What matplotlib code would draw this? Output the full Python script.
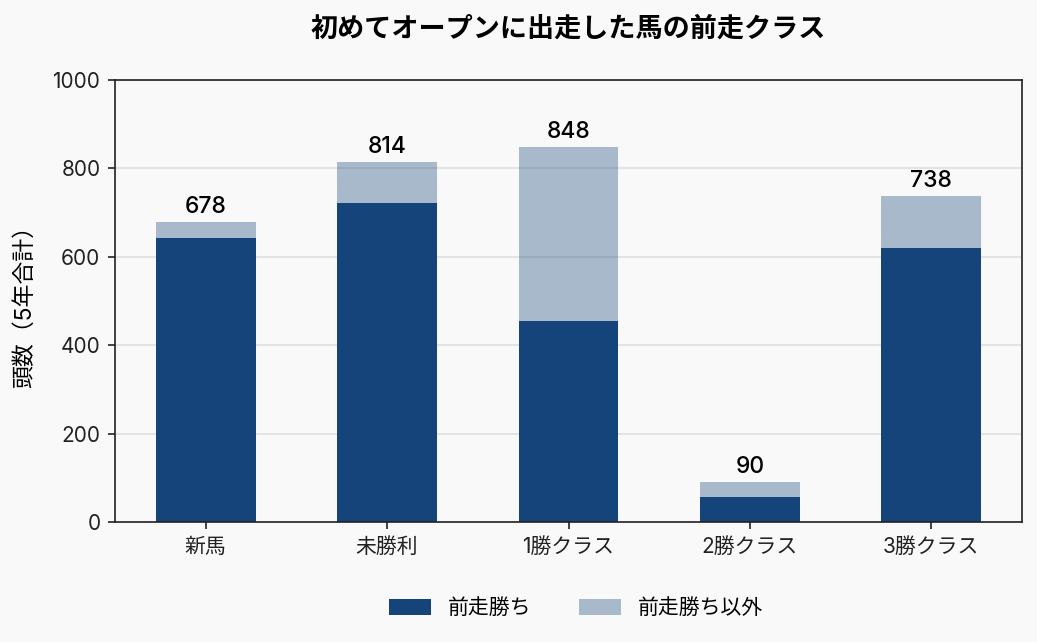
import numpy as np
import matplotlib
matplotlib.use('Agg')
import matplotlib.pyplot as plt

plt.rcParams['font.family'] = ['Inter', 'Noto Sans CJK JP', 'DejaVu Sans']

# 前走クラス別の頭数（5年合計）
classes = ['新馬', '未勝利', '1勝クラス', '2勝クラス', '3勝クラス']
won_last = [642, 722, 455, 56, 620]
totals = [678, 814, 848, 90, 738]
not_won = [t - w for t, w in zip(totals, won_last)]

dark = '#15447a'
bg = '#f9f9f9'

fig = plt.figure(figsize=(1037 / 150, 642 / 150), dpi=150, facecolor=bg)
ax = fig.add_axes([115 / 1037, 1 - 522 / 642, (1022 - 115) / 1037, (522 - 80) / 642])
ax.set_facecolor(bg)

x = np.arange(len(classes))
width = 0.55
ax.bar(x, won_last, width, color=dark, label='前走勝ち', zorder=2)
ax.bar(x, not_won, width, bottom=won_last, color=dark, alpha=0.35,
       label='前走勝ち以外', zorder=2)

for xi, t in zip(x, totals):
    ax.annotate(str(t), (xi, t), xytext=(0, 2), textcoords='offset points',
                ha='center', va='bottom', fontsize=11, fontweight='medium')

ax.set_xlim(-0.5, len(classes) - 0.5)
ax.set_ylim(0, 1000)
ax.set_yticks(np.arange(0, 1001, 200))
ax.set_xticks(x)
ax.set_xticklabels(classes)
ax.tick_params(axis='both', labelsize=10, colors='#222222')
ax.grid(axis='y', color='#e3e3e3', linewidth=1.0, zorder=0)
ax.set_axisbelow(True)
for s in ax.spines.values():
    s.set_color('#222222')
    s.set_linewidth(0.8)

ax.set_ylabel('頭数（5年合計）', fontsize=11, labelpad=8)
ax.set_title('初めてオープンに出走した馬の前走クラス', fontsize=13,
             fontweight='bold', pad=21)

fig.legend(loc='center', bbox_to_anchor=(576 / 1037, 1 - 608 / 642), ncol=2,
           frameon=False, fontsize=10, handlelength=2.0, handleheight=0.8,
           columnspacing=2.3)

fig.savefig('out.png', dpi=150, facecolor=bg)
